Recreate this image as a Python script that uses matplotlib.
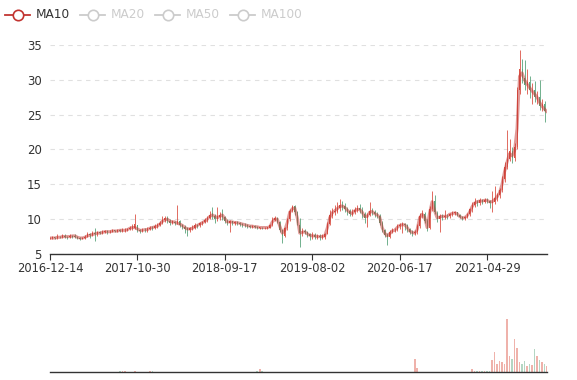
import matplotlib
matplotlib.use("Agg")
import matplotlib.pyplot as plt
from matplotlib.lines import Line2D

# ---------------- data (~6 trading days per point) ----------------
tick_labels = ["2016-12-14", "2017-10-30", "2018-09-17", "2019-08-02", "2020-06-17", "2021-04-29"]
tick_index = [0, 35, 70, 105, 140, 175]

opens = [
    7.2, 7.3, 7.4, 7.3, 7.5, 7.4, 7.6, 7.5, 7.4, 7.6,
    7.6, 7.5, 7.3, 7.2, 7.3, 7.5, 7.8, 7.7, 8.0, 7.8,
    8.1, 8.0, 8.2, 8.3, 8.1, 8.2, 8.4, 8.3, 8.4, 8.3,
    8.4, 8.5, 8.6, 8.7, 8.8, 9.1, 8.4, 8.3, 8.5, 8.4,
    8.6, 8.8, 8.7, 9.0, 9.2, 9.5, 9.9, 10.2, 9.8, 9.5,
    9.6, 9.4, 9.7, 9.1, 8.9, 8.7, 8.4, 8.7, 8.8, 9.1,
    9.1, 9.4, 9.6, 9.9, 10.2, 10.9, 10.5, 10.0, 10.3, 10.7,
    10.3, 9.8, 9.5, 9.7, 9.5, 9.6, 9.4, 9.3, 9.2, 9.1,
    9.0, 8.9, 9.0, 8.9, 8.8, 8.8, 8.7, 8.8, 8.8, 9.2,
    9.9, 10.1, 9.6, 8.4, 7.6, 8.7, 10.0, 11.2, 11.9, 11.0,
    9.2, 8.0, 8.3, 8.1, 7.8, 7.6, 7.7, 7.4, 7.6, 7.4,
    7.5, 7.9, 9.3, 10.5, 11.0, 11.1, 11.6, 12.1, 11.9, 11.5,
    11.2, 10.8, 11.0, 11.3, 11.6, 11.3, 10.7, 10.2, 10.6, 11.2,
    11.0, 10.7, 10.4, 9.5, 8.4, 7.7, 7.5, 8.1, 8.4, 8.5,
    9.0, 9.1, 9.3, 9.1, 8.6, 8.2, 8.0, 8.1, 9.0, 10.5,
    10.8, 9.8, 8.8, 11.5, 12.6, 10.9, 10.0, 10.4, 10.3, 10.5,
    10.4, 10.7, 10.9, 11.0, 10.6, 10.3, 10.1, 10.3, 10.7, 11.4,
    12.1, 12.4, 12.3, 12.7, 12.5, 12.8, 12.6, 12.3, 12.5, 13.0,
    13.4, 14.2, 15.8, 17.5, 18.6, 19.8, 18.8, 20.4, 28.5, 31.5,
    30.2, 29.3, 29.7, 28.5, 28.6, 27.5, 27.6, 26.3, 26.5, 25.5,
]
closes = [
    7.3, 7.4, 7.3, 7.5, 7.4, 7.6, 7.5, 7.4, 7.6, 7.5,
    7.5, 7.3, 7.2, 7.3, 7.5, 7.8, 7.7, 8.0, 7.8, 8.1,
    8.0, 8.2, 8.3, 8.1, 8.2, 8.4, 8.3, 8.4, 8.3, 8.5,
    8.5, 8.6, 8.8, 8.9, 9.3, 8.5, 8.3, 8.5, 8.4, 8.6,
    8.8, 8.7, 9.0, 9.2, 9.5, 9.9, 10.2, 9.8, 9.5, 9.7,
    9.4, 9.8, 9.2, 8.9, 8.6, 8.4, 8.7, 8.8, 9.1, 9.0,
    9.4, 9.6, 9.9, 10.2, 10.6, 10.4, 10.0, 10.5, 10.6, 10.3,
    9.8, 9.5, 9.7, 9.5, 9.6, 9.4, 9.3, 9.2, 9.1, 9.0,
    8.9, 9.0, 8.9, 8.8, 8.8, 8.7, 8.8, 8.8, 9.1, 9.9,
    10.1, 9.6, 8.4, 7.6, 8.7, 10.0, 11.2, 11.9, 11.1, 9.5,
    8.0, 8.3, 8.1, 7.8, 7.6, 7.7, 7.4, 7.6, 7.4, 7.6,
    7.8, 9.3, 10.6, 11.0, 11.2, 11.6, 12.1, 11.8, 11.5, 11.1,
    10.8, 11.0, 11.3, 11.6, 11.3, 10.7, 10.2, 10.6, 11.2, 11.0,
    10.7, 10.4, 9.5, 8.4, 7.7, 7.5, 8.1, 8.4, 8.5, 9.0,
    9.1, 9.3, 9.1, 8.6, 8.2, 8.0, 8.1, 9.0, 10.5, 10.8,
    9.8, 8.8, 11.5, 12.6, 11.0, 10.0, 10.4, 10.3, 10.5, 10.4,
    10.7, 10.9, 11.0, 10.6, 10.3, 10.1, 10.3, 10.7, 11.4, 12.1,
    12.4, 12.3, 12.7, 12.5, 12.8, 12.6, 12.3, 12.5, 13.0, 13.4,
    14.2, 15.8, 17.5, 18.6, 19.8, 18.8, 20.4, 28.5, 31.5, 30.2,
    29.3, 29.7, 28.5, 28.6, 27.5, 27.6, 26.3, 26.5, 25.5, 25.9,
]
highs = [
    7.4, 7.6, 7.5, 7.9, 7.6, 7.8, 7.9, 7.6, 7.8, 7.7,
    7.8, 7.6, 7.4, 7.5, 7.7, 8.2, 8.0, 8.3, 8.7, 8.3,
    8.3, 8.4, 8.5, 8.4, 8.4, 8.6, 8.5, 8.6, 8.6, 8.7,
    8.7, 8.8, 9.0, 9.3, 10.7, 9.2, 8.6, 8.7, 8.7, 8.9,
    9.0, 9.0, 9.3, 9.5, 9.8, 10.4, 10.4, 10.4, 10.0, 9.9,
    9.8, 12.0, 9.9, 9.3, 9.1, 8.9, 8.9, 9.1, 9.5, 9.3,
    9.6, 9.8, 10.2, 10.5, 11.2, 11.8, 10.7, 11.8, 11.0, 11.5,
    10.5, 10.0, 9.9, 9.8, 9.8, 9.8, 9.6, 9.5, 9.4, 9.3,
    9.2, 9.2, 9.1, 9.0, 8.9, 8.9, 8.9, 8.9, 9.3, 10.3,
    10.4, 10.3, 9.8, 8.6, 8.9, 10.2, 11.5, 12.0, 12.0, 11.2,
    10.2, 8.8, 8.6, 8.3, 8.0, 8.1, 8.0, 7.9, 7.8, 7.9,
    8.0, 9.6, 11.3, 11.6, 12.0, 12.4, 12.9, 12.6, 12.3, 11.8,
    11.5, 11.4, 11.8, 12.1, 12.2, 11.7, 11.0, 10.9, 12.5, 11.6,
    11.3, 11.0, 10.7, 9.7, 8.6, 8.0, 8.4, 8.7, 8.8, 9.3,
    9.4, 9.6, 9.5, 9.3, 8.8, 8.5, 8.4, 9.3, 10.9, 11.3,
    11.0, 10.0, 11.9, 14.1, 13.5, 11.2, 10.8, 10.7, 11.3, 10.8,
    10.9, 11.2, 11.2, 11.1, 10.8, 10.5, 10.5, 10.9, 11.6, 12.5,
    13.0, 12.8, 13.0, 12.9, 13.1, 13.0, 12.8, 14.0, 14.7, 13.8,
    14.5, 16.2, 18.2, 22.8, 21.5, 20.3, 20.9, 29.0, 34.3, 33.0,
    32.8, 31.5, 30.6, 29.5, 29.8, 28.4, 30.0, 27.2, 27.0, 26.3,
]
lows = [
    7.1, 7.2, 7.2, 7.2, 7.3, 7.3, 7.3, 7.2, 7.3, 7.3,
    7.3, 7.2, 7.0, 7.1, 7.2, 7.4, 7.3, 7.6, 6.9, 7.6,
    7.8, 7.9, 8.0, 7.9, 8.0, 8.1, 8.1, 8.2, 8.1, 8.2,
    8.2, 8.3, 8.4, 8.5, 8.6, 8.2, 8.0, 8.1, 8.2, 8.2,
    8.4, 8.4, 8.6, 8.8, 9.0, 9.3, 9.6, 9.4, 9.2, 9.3,
    9.2, 9.3, 8.9, 8.6, 8.0, 7.6, 8.1, 8.4, 8.6, 8.7,
    8.9, 9.2, 9.4, 9.6, 10.0, 10.0, 9.5, 9.8, 9.9, 9.9,
    9.5, 9.1, 8.2, 9.2, 9.2, 9.2, 9.0, 8.9, 8.9, 8.8,
    8.7, 8.8, 8.7, 8.6, 8.6, 8.6, 8.6, 8.6, 8.7, 9.0,
    9.7, 9.4, 8.2, 6.6, 7.4, 8.5, 9.8, 11.0, 10.6, 9.2,
    6.0, 7.6, 7.8, 7.5, 7.0, 7.2, 7.1, 7.1, 7.0, 7.2,
    7.2, 7.8, 9.1, 10.2, 10.6, 10.9, 11.2, 11.3, 11.0, 10.6,
    10.5, 10.4, 10.8, 11.0, 10.9, 10.2, 9.4, 8.9, 10.4, 10.6,
    10.3, 10.1, 9.2, 8.1, 7.4, 6.3, 7.3, 8.0, 8.1, 8.3,
    8.6, 8.0, 8.5, 8.1, 7.9, 7.6, 7.7, 7.9, 8.8, 10.1,
    9.5, 8.3, 8.6, 11.2, 10.7, 9.6, 8.2, 9.9, 10.0, 10.0,
    10.2, 10.5, 10.6, 10.4, 10.1, 9.9, 9.9, 10.1, 10.5, 11.1,
    11.8, 11.9, 12.1, 12.2, 12.3, 12.3, 11.6, 11.1, 12.2, 12.6,
    13.1, 13.9, 15.4, 17.2, 18.3, 18.0, 18.4, 20.1, 28.0, 29.5,
    28.6, 28.0, 27.4, 26.6, 26.8, 26.5, 25.6, 25.5, 24.0, 25.0,
]
ma10 = [
    7.3, 7.3, 7.3, 7.4, 7.4, 7.5, 7.5, 7.5, 7.5, 7.6,
    7.6, 7.4, 7.3, 7.3, 7.4, 7.6, 7.7, 7.8, 7.9, 8.0,
    8.0, 8.1, 8.2, 8.2, 8.2, 8.3, 8.3, 8.3, 8.4, 8.4,
    8.4, 8.5, 8.7, 8.8, 8.8, 8.6, 8.4, 8.4, 8.5, 8.5,
    8.7, 8.8, 8.9, 9.0, 9.3, 9.7, 9.9, 10.0, 9.7, 9.6,
    9.6, 9.4, 9.3, 9.1, 8.8, 8.6, 8.6, 8.7, 8.9, 9.1,
    9.3, 9.5, 9.7, 10.0, 10.4, 10.6, 10.4, 10.2, 10.4, 10.6,
    10.1, 9.6, 9.6, 9.6, 9.5, 9.5, 9.4, 9.3, 9.2, 9.1,
    9.0, 9.0, 8.9, 8.9, 8.8, 8.8, 8.8, 8.8, 8.9, 9.6,
    10.0, 10.0, 9.0, 8.0, 8.4, 9.5, 11.0, 11.5, 11.6, 10.2,
    8.0, 8.1, 8.2, 7.9, 7.7, 7.6, 7.6, 7.5, 7.5, 7.5,
    7.6, 8.7, 10.2, 10.9, 11.2, 11.5, 11.8, 11.9, 11.7, 11.3,
    11.0, 10.8, 11.2, 11.4, 11.4, 11.0, 10.4, 10.4, 11.0, 11.1,
    10.8, 10.6, 10.3, 8.8, 8.0, 7.6, 7.9, 8.3, 8.4, 8.8,
    9.1, 9.2, 9.2, 8.8, 8.3, 8.1, 8.0, 8.5, 10.2, 10.7,
    10.3, 8.8, 10.9, 12.5, 11.2, 10.2, 10.3, 10.4, 10.4, 10.4,
    10.7, 10.8, 10.9, 10.8, 10.4, 10.2, 10.2, 10.5, 11.0, 11.8,
    12.3, 12.5, 12.6, 12.6, 12.7, 12.7, 12.5, 12.5, 12.8, 13.2,
    13.8, 15.0, 16.8, 18.2, 19.4, 19.1, 19.8, 23.0, 30.5, 31.0,
    30.0, 29.4, 28.9, 28.4, 28.0, 27.5, 26.8, 26.2, 25.8, 25.4,
]
volumes = [
    0.3, 0.3, 0.3, 0.3, 0.3, 0.3, 0.3, 0.3, 0.3, 0.3,
    0.3, 0.3, 0.3, 0.3, 0.3, 0.4, 0.4, 0.4, 0.5, 0.4,
    0.4, 0.4, 0.4, 0.4, 0.4, 0.4, 0.5, 0.6, 1.2, 1.8,
    1.0, 0.5, 0.5, 0.6, 1.0, 0.5, 0.4, 0.4, 0.5, 0.8,
    1.0, 1.2, 0.9, 0.6, 0.5, 0.5, 0.5, 0.5, 0.4, 0.4,
    0.4, 0.6, 0.4, 0.4, 0.4, 0.4, 0.3, 0.3, 0.3, 0.3,
    0.3, 0.3, 0.3, 0.3, 0.3, 0.3, 0.3, 0.3, 0.3, 0.3,
    0.3, 0.3, 0.3, 0.3, 0.3, 0.3, 0.3, 0.3, 0.3, 0.3,
    0.3, 0.4, 0.6, 2.5, 5.0, 1.5, 0.5, 0.4, 0.4, 0.5,
    0.4, 0.4, 0.4, 0.4, 0.3, 0.3, 0.4, 0.4, 0.4, 0.3,
    0.3, 0.3, 0.3, 0.3, 0.3, 0.3, 0.3, 0.3, 0.3, 0.3,
    0.3, 0.3, 0.3, 0.3, 0.3, 0.3, 0.3, 0.3, 0.3, 0.3,
    0.3, 0.3, 0.3, 0.3, 0.3, 0.3, 0.3, 0.3, 0.3, 0.3,
    0.3, 0.3, 0.3, 0.3, 0.3, 0.3, 0.3, 0.3, 0.3, 0.3,
    0.3, 0.3, 0.3, 0.3, 0.3, 0.4, 25.0, 8.0, 0.4, 0.3,
    0.3, 0.3, 0.3, 0.3, 0.3, 0.3, 0.3, 0.3, 0.3, 0.3,
    0.3, 0.3, 0.3, 0.3, 0.3, 0.3, 0.3, 0.4, 0.5, 5.0,
    2.0, 1.5, 2.0, 1.5, 1.8, 1.5, 2.0, 22.0, 38.0, 15.0,
    20.0, 18.0, 15.0, 100.0, 30.0, 25.0, 62.0, 45.0, 18.0, 15.0,
    20.0, 12.0, 16.0, 14.0, 43.0, 30.0, 22.0, 18.0, 15.0, 12.0,
]

# ---------------- styling ----------------
W, H = 577, 380
UP = "#dc5446"
DOWN = "#5aa47b"
MA_COLOR = "#c23531"
TEXT = "#333333"

plt.rcParams["font.family"] = ["DejaVu Sans"]

fig = plt.figure(figsize=(W / 100, H / 100), dpi=100)


def fx(x):
    return x / W


def fy(y):
    return 1 - y / H


n = len(closes)
idx = list(range(n))
colors = [UP if c >= o else DOWN for o, c in zip(opens, closes)]

# ---------------- main price panel ----------------
ax = fig.add_axes([fx(50), fy(254), 497 / W, 209 / H])
ax.set_xlim(0, n - 1)
ax.set_ylim(5, 35)

ax.vlines(idx, lows, highs, colors=colors, linewidth=0.6, zorder=2)
body_bottom = [min(o, c) for o, c in zip(opens, closes)]
body_height = [max(abs(c - o), 0.05) for o, c in zip(opens, closes)]
ax.bar(idx, body_height, bottom=body_bottom, width=0.4, color=colors,
       linewidth=0, zorder=2)
ax.plot(idx, ma10, color=MA_COLOR, alpha=0.5, linewidth=2.2,
        solid_joinstyle="round", solid_capstyle="round", zorder=3)

ax.set_yticks([5, 10, 15, 20, 25, 30, 35])
ax.set_yticklabels(["5", "10", "15", "20", "25", "30", "35"])
ax.set_xticks(tick_index)
ax.set_xticklabels(tick_labels)
ax.grid(axis="y", color="#e0e0e0", linestyle=(0, (4, 4)), linewidth=0.8, zorder=0)
ax.set_axisbelow(True)
for s in ("top", "right", "left"):
    ax.spines[s].set_visible(False)
ax.spines["bottom"].set_color(TEXT)
ax.spines["bottom"].set_linewidth(1.0)
ax.tick_params(axis="y", length=0, pad=6, labelsize=8.5, labelcolor=TEXT)
ax.tick_params(axis="x", length=4, width=0.8, color=TEXT, pad=2,
               labelsize=8.3, labelcolor=TEXT)

# ---------------- volume panel ----------------
axv = fig.add_axes([fx(50), fy(372), 497 / W, 60 / H])
axv.set_xlim(0, n - 1)
axv.set_ylim(0, 113)
axv.bar(idx, volumes, width=0.7, color=colors, alpha=0.45, linewidth=0)
for s in ("top", "right", "left"):
    axv.spines[s].set_visible(False)
axv.spines["bottom"].set_color(TEXT)
axv.spines["bottom"].set_linewidth(1.0)
axv.set_xticks([])
axv.set_yticks([])
axv.patch.set_alpha(0)

# ---------------- legend (ECharts-style) ----------------
legend_items = ["MA10", "MA20", "MA50", "MA100"]
legend_active = [True, False, False, False]
icon_x = [5, 80, 155, 230]
for name, active, x0 in zip(legend_items, legend_active, icon_x):
    col = MA_COLOR if active else "#cccccc"
    tcol = TEXT if active else "#cccccc"
    fig.add_artist(Line2D([fx(x0), fx(x0 + 25)], [fy(15), fy(15)],
                          color=col, linewidth=1.3, transform=fig.transFigure))
    fig.add_artist(Line2D([fx(x0 + 12.5)], [fy(15)], marker="o", markersize=7.5,
                          markerfacecolor="white", markeredgecolor=col,
                          markeredgewidth=1.2, linestyle="none",
                          transform=fig.transFigure))
    fig.text(fx(x0 + 31), fy(15), name, color=tcol, fontsize=8.7,
             ha="left", va="center")

fig.savefig("out.png", dpi=100)
